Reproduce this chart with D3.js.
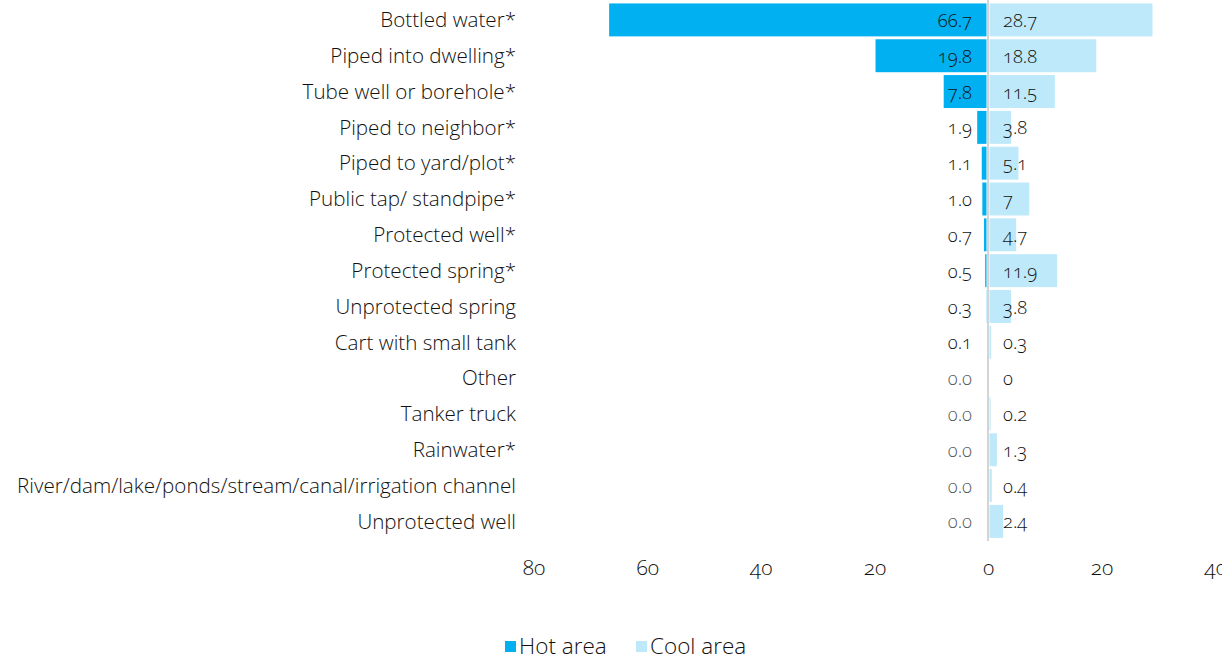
<!DOCTYPE html>
<html>
<head>
<meta charset="utf-8">
<script src="https://cdn.jsdelivr.net/npm/d3@7"></script>
<style>
  html, body { margin: 0; padding: 0; background: #fff; }
  svg text { font-family: "Open Sans", "Lato", sans-serif; font-weight: 300; font-variant-numeric: oldstyle-nums; font-feature-settings: "onum" 1; }
</style>
</head>
<body>
<svg id="chart" width="1222" height="656"></svg>
<script>
// Drinking water source by area (%)
const categories = [
  "Bottled water*",
  "Piped into dwelling*",
  "Tube well or borehole*",
  "Piped to neighbor*",
  "Piped to yard/plot*",
  "Public tap/ standpipe*",
  "Protected well*",
  "Protected spring*",
  "Unprotected spring",
  "Cart with small tank",
  "Other",
  "Tanker truck",
  "Rainwater*",
  "River/dam/lake/ponds/stream/canal/irrigation channel",
  "Unprotected well"
];
const hotValues  = [66.7, 19.8, 7.8, 1.9, 1.1, 1.0, 0.7, 0.5, 0.3, 0.1, 0.0, 0.0, 0.0, 0.0, 0.0];
const coolValues = [28.7, 18.8, 11.5, 3.8, 5.1, 7, 4.7, 11.9, 3.8, 0.3, 0, 0.2, 1.3, 0.4, 2.4];
const hotLabels  = ["66.7", "19.8", "7.8", "1.9", "1.1", "1.0", "0.7", "0.5", "0.3", "0.1", "0.0", "0.0", "0.0", "0.0", "0.0"];
const coolLabels = ["28.7", "18.8", "11.5", "3.8", "5.1", "7", "4.7", "11.9", "3.8", "0.3", "0", "0.2", "1.3", "0.4", "2.4"];
const tickValues = [-80, -60, -40, -20, 0, 20, 40];
const seriesNames = ["Hot area", "Cool area"];

const HOT = "#00b0f0", COOL = "#bde9fa", INK = "#111";

const svg = d3.select("#chart");

// Hot values run left of zero, cool values right of zero
const x = d3.scaleLinear().domain([-80, 40]).range([533.6, 1215.2]);
const y = d3.scaleBand().domain(categories).range([2, 539.3])
  .paddingInner(0.08).paddingOuter(0.04);

const rows = categories.map((c, i) => ({
  cat: c, hot: hotValues[i], cool: coolValues[i], hotLabel: hotLabels[i], coolLabel: coolLabels[i]
}));

// Bars
svg.append("g").selectAll("rect").data(rows).join("rect")
  .attr("x", d => x(-d.hot)).attr("y", d => y(d.cat))
  .attr("width", d => x(0) - x(-d.hot) - 1.5).attr("height", y.bandwidth())
  .attr("fill", HOT);

svg.append("g").selectAll("rect").data(rows).join("rect")
  .attr("x", d => x(0) + 1.5).attr("y", d => y(d.cat))
  .attr("width", d => x(d.cool) - x(0)).attr("height", y.bandwidth())
  .attr("fill", COOL);

// Zero line
svg.append("line")
  .attr("x1", x(0)).attr("x2", x(0))
  .attr("y1", 0).attr("y2", 541)
  .attr("stroke", "#d4d4d4").attr("stroke-width", 2);

// Category labels
svg.append("g").selectAll("text").data(rows).join("text")
  .attr("x", 516).attr("y", d => y(d.cat) + y.bandwidth() / 2)
  .attr("dy", "0.35em").attr("text-anchor", "end")
  .attr("font-size", 20.6).attr("fill", INK)
  .text(d => d.cat);

// Value labels
svg.append("g").selectAll("text").data(rows).join("text")
  .attr("x", x(0) - 16).attr("y", d => y(d.cat) + y.bandwidth() / 2)
  .attr("dy", "0.38em").attr("text-anchor", "end")
  .attr("font-size", 18.5).attr("fill", d => d.hot === 0 ? "#5a5a5a" : INK)
  .text(d => d.hotLabel);

svg.append("g").selectAll("text").data(rows).join("text")
  .attr("x", x(0) + 15).attr("y", d => y(d.cat) + y.bandwidth() / 2)
  .attr("dy", "0.38em").attr("text-anchor", "start")
  .attr("font-size", 18.5).attr("fill", INK)
  .text(d => d.coolLabel);

// Bottom axis with absolute tick labels
const axis = d3.axisBottom(x).tickValues(tickValues).tickSize(0).tickPadding(0)
  .tickFormat(d => String(Math.abs(d)));
const gx = svg.append("g").attr("transform", "translate(0,560)").call(axis);
gx.select(".domain").remove();
gx.selectAll("text").attr("font-size", 21).attr("fill", INK)
  .style("font-family", "'Open Sans', Lato, sans-serif");

// Legend
const legend = svg.append("g");
const legendX = [505, 636];
seriesNames.forEach((name, i) => {
  legend.append("rect").attr("x", legendX[i]).attr("y", 641).attr("width", 11).attr("height", 11)
    .attr("fill", i === 0 ? HOT : COOL);
  legend.append("text").attr("x", legendX[i] + 14).attr("y", 646).attr("dy", "0.36em")
    .attr("font-size", 22.5).attr("fill", INK).text(name);
});
</script>
</body>
</html>
